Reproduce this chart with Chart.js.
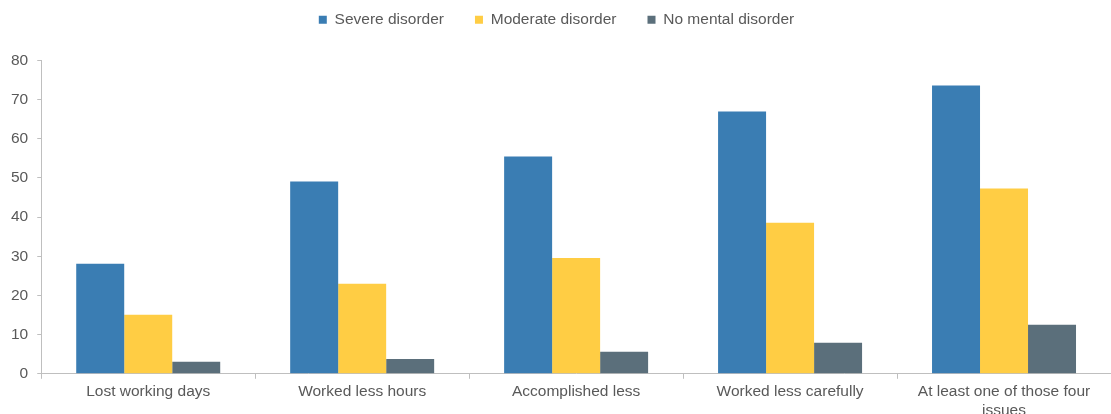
<!DOCTYPE html>
<html>
<head>
<meta charset="utf-8">
<script src="https://cdn.jsdelivr.net/npm/chart.js@4.4.1/dist/chart.umd.min.js"></script>
<style>
  html, body { margin: 0; padding: 0; background: #fff; overflow: hidden; }
  #wrap { width: 1111px; height: 414px; position: relative; }
</style>
</head>
<body>
<div id="wrap"><canvas id="chart"></canvas></div>
<script>
// Categories and series
const categories = [
    'Lost working days',
    'Worked less hours',
    'Accomplished less',
    'Worked less carefully',
    ['At least one of those four', 'issues']
];
const severe = [28.1, 49.1, 55.5, 67.0, 73.6];
const moderate = [15.1, 23.0, 29.6, 38.6, 47.3];
const noDisorder = [3.1, 3.8, 5.6, 7.9, 12.5];
const yTicks = [0, 10, 20, 30, 40, 50, 60, 70, 80];

const textColor = '#595959';
const axisColor = '#bfbfbf';
const fontFamily = '"Liberation Sans", Arial, sans-serif';

// extra room between the legend and the plot
const legendSpacing = {
    id: 'legendSpacing',
    beforeInit(chart) {
        const fit = chart.legend.fit;
        chart.legend.fit = function () {
            fit.bind(chart.legend)();
            this.height += 23;
        };
    }
};

new Chart(document.getElementById('chart'), {
    type: 'bar',
    data: {
        labels: categories,
        datasets: [
            { label: 'Severe disorder', data: severe, backgroundColor: '#3a7db3' },
            { label: 'Moderate disorder', data: moderate, backgroundColor: '#ffcd44' },
            { label: 'No mental disorder', data: noDisorder, backgroundColor: '#5b6f7b' }
        ]
    },
    plugins: [legendSpacing],
    options: {
        responsive: true,
        maintainAspectRatio: false,
        animation: false,
        layout: { padding: { left: 2, right: 0, top: -19, bottom: -10 } },
        datasets: {
            bar: { categoryPercentage: 0.673, barPercentage: 1.0 }
        },
        plugins: {
            tooltip: { enabled: false },
            legend: {
                position: 'top',
                labels: {
                    color: textColor,
                    font: { family: fontFamily, size: 15.5 },
                    boxWidth: 8,
                    boxHeight: 8,
                    padding: 31
                }
            }
        },
        scales: {
            x: {
                offset: true,
                grid: {
                    display: true,
                    offset: true,
                    drawOnChartArea: false,
                    drawTicks: true,
                    tickLength: 5,
                    color: axisColor
                },
                border: { color: axisColor, width: 1 },
                ticks: {
                    color: textColor,
                    font: { family: fontFamily, size: 15.5 },
                    maxRotation: 0,
                    padding: 4
                }
            },
            y: {
                min: 0,
                max: 80,
                afterBuildTicks: function (axis) {
                    axis.ticks = yTicks.map(function (v) { return { value: v }; });
                },
                grid: {
                    display: true,
                    drawOnChartArea: false,
                    drawTicks: true,
                    tickLength: 4,
                    color: axisColor
                },
                border: { color: axisColor, width: 1 },
                ticks: {
                    color: textColor,
                    font: { family: fontFamily, size: 15.5 },
                    padding: 9
                }
            }
        }
    }
});
</script>
</body>
</html>
